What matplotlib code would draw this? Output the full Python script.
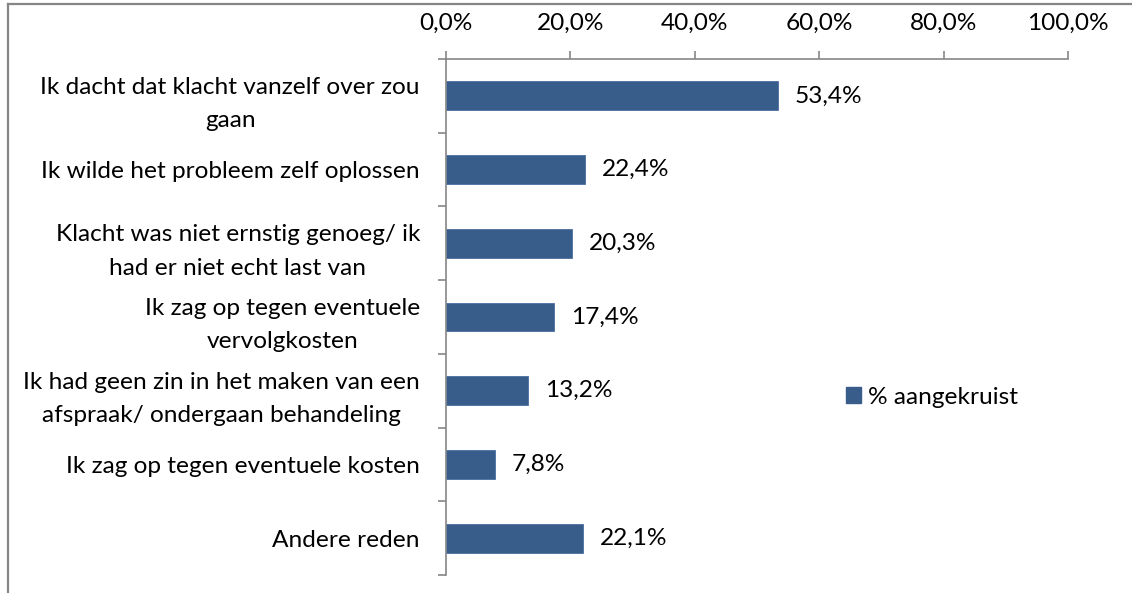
import matplotlib
matplotlib.use("Agg")
import matplotlib.pyplot as plt
from matplotlib.lines import Line2D
from matplotlib.patches import Patch
from matplotlib.ticker import FixedLocator
import matplotlib.transforms as mtransforms

categories = [
    "Ik dacht dat klacht vanzelf over zou\ngaan",
    "Ik wilde het probleem zelf oplossen",
    "Klacht was niet ernstig genoeg/ ik\nhad er niet echt last van",
    "Ik zag op tegen eventuele\nvervolgkosten",
    "Ik had geen zin in het maken van een\nafspraak/ ondergaan behandeling",
    "Ik zag op tegen eventuele kosten",
    "Andere reden",
]
values = [53.4, 22.4, 20.3, 17.4, 13.2, 7.8, 22.1]
x_ticks = [0, 20, 40, 60, 80, 100]
x_tick_labels = ["0,0%", "20,0%", "40,0%", "60,0%", "80,0%", "100,0%"]
series_name = "% aangekruist"

FONT = "Lato"
FS = 17.6
BAR = "#385D8A"
GRAY = "#868686"

W, H = 1132, 593
fig = plt.figure(figsize=(W / 100, H / 100), dpi=100)
ax = fig.add_axes([446 / W, 18 / H, (1068 - 446) / W, (575 - 59) / H])

pos = list(range(len(categories)))
ax.barh(pos, values, height=0.39, color=BAR, edgecolor="#4A6FA0", linewidth=0.6)
for p, v in zip(pos, values):
    ax.annotate(f"{v:.1f}%".replace(".", ","), (v, p), xytext=(12, 0),
                textcoords="offset points", va="center", ha="left",
                fontsize=FS, family=FONT, color="black")

ax.set_xlim(0, 100)
ax.set_ylim(len(categories) - 0.5, -0.5)

ax.xaxis.set_ticks_position("top")
ax.set_xticks(x_ticks)
ax.set_xticklabels(x_tick_labels, fontsize=FS, family=FONT)
ax.tick_params(axis="x", direction="out", length=6, width=1.2, color=GRAY, pad=12)

ax.set_yticks(pos)
ax.set_yticklabels(categories, fontsize=FS, family=FONT, ha="center",
                   multialignment="center", linespacing=1.72)
ax.yaxis.set_minor_locator(FixedLocator([i - 0.5 for i in range(len(categories) + 1)]))
ax.tick_params(axis="y", which="major", length=0, pad=0)
ax.tick_params(axis="y", which="minor", direction="out", length=6, width=1.2, color=GRAY)
fig.canvas.draw()
renderer = fig.canvas.get_renderer()
for lab in ax.get_yticklabels():
    bb = lab.get_window_extent(renderer)
    off = (420 - bb.width / 2) - 446
    lab.set_transform(ax.get_yaxis_transform() + mtransforms.ScaledTranslation(off / 100, 0, fig.dpi_scale_trans))

for s in ["right", "bottom"]:
    ax.spines[s].set_visible(False)
for s in ["left", "top"]:
    ax.spines[s].set_color(GRAY)
    ax.spines[s].set_linewidth(1.2)

# chart border (top and left edges visible)
fig.add_artist(Line2D([8 / W, 1], [1 - 4 / H, 1 - 4 / H], color=GRAY, lw=1.6, transform=fig.transFigure))
fig.add_artist(Line2D([8 / W, 8 / W], [0, 1 - 4 / H], color=GRAY, lw=1.6, transform=fig.transFigure))

fig.legend(handles=[Patch(facecolor=BAR, edgecolor=BAR, label=series_name)],
           loc="center left", bbox_to_anchor=(846 / W, 1 - 397 / H), frameon=False,
           prop={"family": FONT, "size": FS}, handlelength=0.6, handleheight=0.6,
           handletextpad=0.3, borderpad=0, borderaxespad=0)

fig.savefig("out.png", dpi=100)
